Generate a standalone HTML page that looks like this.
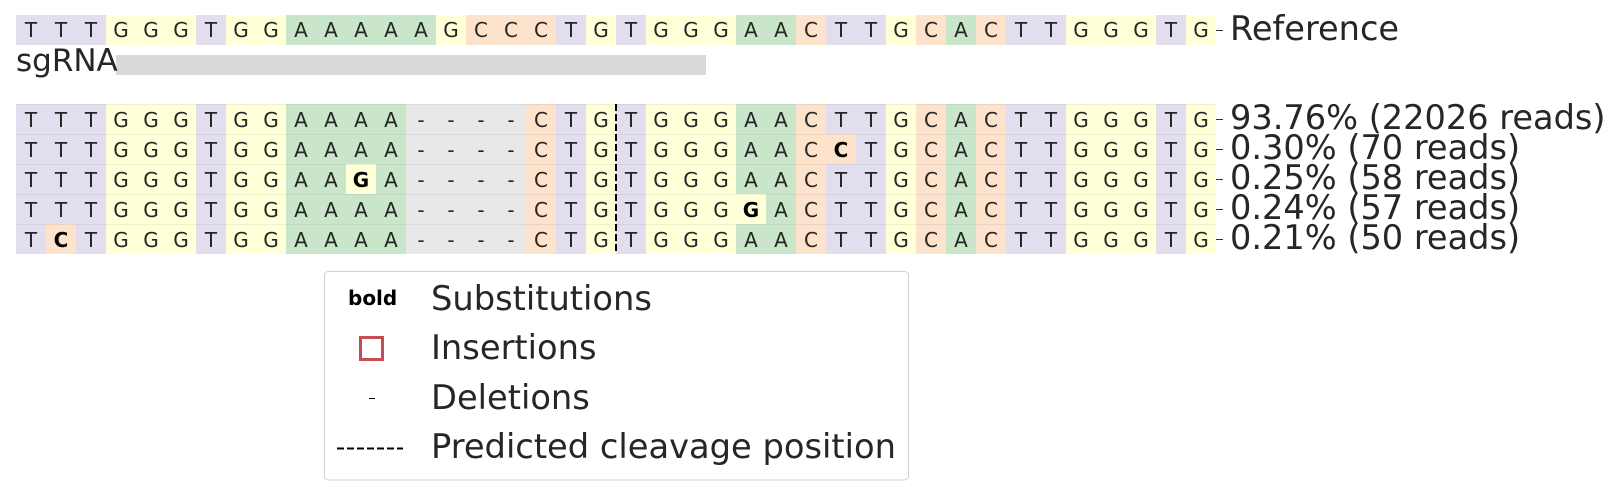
<!DOCTYPE html>
<html><head><meta charset="utf-8"><style>
body{margin:0;width:1616px;height:490px;background:#fff;position:relative;overflow:hidden;font-family:"DejaVu Sans","Liberation Sans",sans-serif;color:#262626}
.row{position:absolute;left:16px;display:flex;height:30px}
.row span{width:30px;height:30px;line-height:30px;text-align:center;font-size:20px;color:#262626;box-sizing:border-box}
.al span{border-top:1px solid rgba(0,0,0,0.06)}
.A{background:#c9e6ca}.C{background:#fde2cc}.G{background:#ffffd8}.T{background:#e3deed}.D{background:#e8e8e8}
.row span.b{font-weight:bold;color:#000}
.lab{position:absolute;left:1230px;font-size:33.6px;line-height:33px;white-space:nowrap;color:#262626}
.tick{position:absolute;left:1216px;width:7px;height:1.5px;background:#333}
.lg{position:absolute;left:431px;font-size:33.7px;line-height:33px;white-space:nowrap}
</style></head><body>
<div class="row" style="top:15px"><span class="T">T</span><span class="T">T</span><span class="T">T</span><span class="G">G</span><span class="G">G</span><span class="G">G</span><span class="T">T</span><span class="G">G</span><span class="G">G</span><span class="A">A</span><span class="A">A</span><span class="A">A</span><span class="A">A</span><span class="A">A</span><span class="G">G</span><span class="C">C</span><span class="C">C</span><span class="C">C</span><span class="T">T</span><span class="G">G</span><span class="T">T</span><span class="G">G</span><span class="G">G</span><span class="G">G</span><span class="A">A</span><span class="A">A</span><span class="C">C</span><span class="T">T</span><span class="T">T</span><span class="G">G</span><span class="C">C</span><span class="A">A</span><span class="C">C</span><span class="T">T</span><span class="T">T</span><span class="G">G</span><span class="G">G</span><span class="G">G</span><span class="T">T</span><span class="G">G</span></div>
<div class="tick" style="top:29.5px"></div>
<div class="lab" style="top:12px">Reference</div>

<div style="position:absolute;left:116px;top:55px;width:590px;height:20px;background:#d9d9d9"></div>
<div style="position:absolute;left:16px;top:46px;font-size:31px;line-height:30px;color:#262626">sgRNA</div>

<div class="row al" style="top:104px"><span class="T">T</span><span class="T">T</span><span class="T">T</span><span class="G">G</span><span class="G">G</span><span class="G">G</span><span class="T">T</span><span class="G">G</span><span class="G">G</span><span class="A">A</span><span class="A">A</span><span class="A">A</span><span class="A">A</span><span class="D">-</span><span class="D">-</span><span class="D">-</span><span class="D">-</span><span class="C">C</span><span class="T">T</span><span class="G">G</span><span class="T">T</span><span class="G">G</span><span class="G">G</span><span class="G">G</span><span class="A">A</span><span class="A">A</span><span class="C">C</span><span class="T">T</span><span class="T">T</span><span class="G">G</span><span class="C">C</span><span class="A">A</span><span class="C">C</span><span class="T">T</span><span class="T">T</span><span class="G">G</span><span class="G">G</span><span class="G">G</span><span class="T">T</span><span class="G">G</span></div>
<div class="row al" style="top:134px"><span class="T">T</span><span class="T">T</span><span class="T">T</span><span class="G">G</span><span class="G">G</span><span class="G">G</span><span class="T">T</span><span class="G">G</span><span class="G">G</span><span class="A">A</span><span class="A">A</span><span class="A">A</span><span class="A">A</span><span class="D">-</span><span class="D">-</span><span class="D">-</span><span class="D">-</span><span class="C">C</span><span class="T">T</span><span class="G">G</span><span class="T">T</span><span class="G">G</span><span class="G">G</span><span class="G">G</span><span class="A">A</span><span class="A">A</span><span class="C">C</span><span class="C b">C</span><span class="T">T</span><span class="G">G</span><span class="C">C</span><span class="A">A</span><span class="C">C</span><span class="T">T</span><span class="T">T</span><span class="G">G</span><span class="G">G</span><span class="G">G</span><span class="T">T</span><span class="G">G</span></div>
<div class="row al" style="top:164px"><span class="T">T</span><span class="T">T</span><span class="T">T</span><span class="G">G</span><span class="G">G</span><span class="G">G</span><span class="T">T</span><span class="G">G</span><span class="G">G</span><span class="A">A</span><span class="A">A</span><span class="G b">G</span><span class="A">A</span><span class="D">-</span><span class="D">-</span><span class="D">-</span><span class="D">-</span><span class="C">C</span><span class="T">T</span><span class="G">G</span><span class="T">T</span><span class="G">G</span><span class="G">G</span><span class="G">G</span><span class="A">A</span><span class="A">A</span><span class="C">C</span><span class="T">T</span><span class="T">T</span><span class="G">G</span><span class="C">C</span><span class="A">A</span><span class="C">C</span><span class="T">T</span><span class="T">T</span><span class="G">G</span><span class="G">G</span><span class="G">G</span><span class="T">T</span><span class="G">G</span></div>
<div class="row al" style="top:194px"><span class="T">T</span><span class="T">T</span><span class="T">T</span><span class="G">G</span><span class="G">G</span><span class="G">G</span><span class="T">T</span><span class="G">G</span><span class="G">G</span><span class="A">A</span><span class="A">A</span><span class="A">A</span><span class="A">A</span><span class="D">-</span><span class="D">-</span><span class="D">-</span><span class="D">-</span><span class="C">C</span><span class="T">T</span><span class="G">G</span><span class="T">T</span><span class="G">G</span><span class="G">G</span><span class="G">G</span><span class="G b">G</span><span class="A">A</span><span class="C">C</span><span class="T">T</span><span class="T">T</span><span class="G">G</span><span class="C">C</span><span class="A">A</span><span class="C">C</span><span class="T">T</span><span class="T">T</span><span class="G">G</span><span class="G">G</span><span class="G">G</span><span class="T">T</span><span class="G">G</span></div>
<div class="row al" style="top:224px"><span class="T">T</span><span class="C b">C</span><span class="T">T</span><span class="G">G</span><span class="G">G</span><span class="G">G</span><span class="T">T</span><span class="G">G</span><span class="G">G</span><span class="A">A</span><span class="A">A</span><span class="A">A</span><span class="A">A</span><span class="D">-</span><span class="D">-</span><span class="D">-</span><span class="D">-</span><span class="C">C</span><span class="T">T</span><span class="G">G</span><span class="T">T</span><span class="G">G</span><span class="G">G</span><span class="G">G</span><span class="A">A</span><span class="A">A</span><span class="C">C</span><span class="T">T</span><span class="T">T</span><span class="G">G</span><span class="C">C</span><span class="A">A</span><span class="C">C</span><span class="T">T</span><span class="T">T</span><span class="G">G</span><span class="G">G</span><span class="G">G</span><span class="T">T</span><span class="G">G</span></div>

<svg style="position:absolute;left:0;top:0" width="1616" height="490">
<line x1="616" y1="104" x2="616" y2="254" stroke="#000" stroke-width="2" stroke-dasharray="7,3"/>
<rect x="324.5" y="271.5" width="584" height="208.5" rx="4" fill="#fff" stroke="#d0d0d0" stroke-width="1"/>
<rect x="360.5" y="337.5" width="22" height="22" fill="none" stroke="#c44e52" stroke-width="3"/>
<line x1="369" y1="398.5" x2="375" y2="398.5" stroke="#000" stroke-width="1"/>
<line x1="337" y1="448.5" x2="403" y2="448.5" stroke="#000" stroke-width="2" stroke-dasharray="7,3"/>
</svg>

<div class="tick" style="top:118.5px"></div><div class="tick" style="top:148.5px"></div><div class="tick" style="top:178.5px"></div><div class="tick" style="top:208.5px"></div><div class="tick" style="top:238.5px"></div>
<div class="lab" style="top:101px">93.76% (22026 reads)</div>
<div class="lab" style="top:131px">0.30% (70 reads)</div>
<div class="lab" style="top:161px">0.25% (58 reads)</div>
<div class="lab" style="top:191px">0.24% (57 reads)</div>
<div class="lab" style="top:221px">0.21% (50 reads)</div>

<div style="position:absolute;left:348px;top:288px;font-size:20px;line-height:20px;font-weight:bold;color:#000">bold</div>
<div class="lg" style="top:282px">Substitutions</div>
<div class="lg" style="top:331px">Insertions</div>
<div class="lg" style="top:381px">Deletions</div>
<div class="lg" style="top:430px">Predicted cleavage position</div>
</body></html>
